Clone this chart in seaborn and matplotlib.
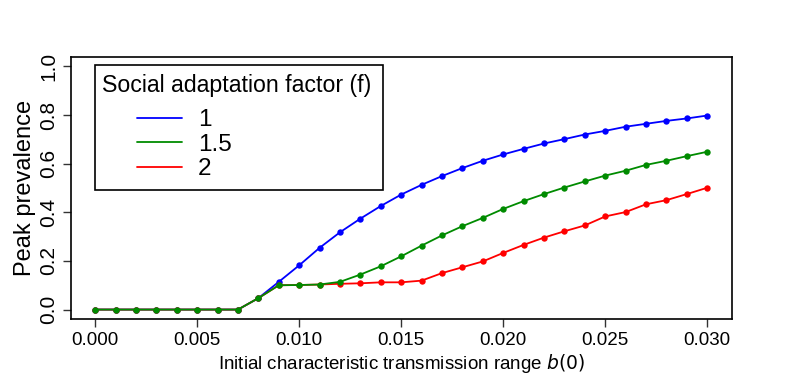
import numpy as np
import pandas as pd
import matplotlib
matplotlib.use("Agg")
import matplotlib.pyplot as plt
from matplotlib.lines import Line2D
from matplotlib.patches import Rectangle
import seaborn as sns

# values
b0 = [0.000, 0.001, 0.002, 0.003, 0.004, 0.005, 0.006, 0.007, 0.008, 0.009,
      0.010, 0.011, 0.012, 0.013, 0.014, 0.015, 0.016, 0.017, 0.018, 0.019,
      0.020, 0.021, 0.022, 0.023, 0.024, 0.025, 0.026, 0.027, 0.028, 0.029, 0.030]
peak_f1 = [0, 0, 0, 0, 0, 0, 0, 0, 0.047, 0.114, 0.182, 0.254, 0.318, 0.374,
           0.426, 0.473, 0.513, 0.549, 0.582, 0.612, 0.638, 0.661, 0.683, 0.701,
           0.720, 0.735, 0.752, 0.764, 0.776, 0.786, 0.798]
peak_f15 = [0, 0, 0, 0, 0, 0, 0, 0, 0.047, 0.100, 0.101, 0.103, 0.114, 0.144,
            0.178, 0.219, 0.263, 0.305, 0.343, 0.377, 0.414, 0.446, 0.475, 0.502,
            0.527, 0.551, 0.571, 0.595, 0.612, 0.631, 0.649]
peak_f2 = [0, 0, 0, 0, 0, 0, 0, 0, 0.047, 0.100, 0.101, 0.103, 0.106, 0.108,
           0.112, 0.112, 0.119, 0.150, 0.174, 0.198, 0.233, 0.266, 0.296, 0.322,
           0.346, 0.383, 0.401, 0.433, 0.450, 0.475, 0.501]
factors = ["1", "1.5", "2"]
colors = {"1": "#0000FF", "1.5": "#008B00", "2": "#FF0000"}

x_ticks = [0.000, 0.005, 0.010, 0.015, 0.020, 0.025, 0.030]
y_ticks = [0.0, 0.2, 0.4, 0.6, 0.8, 1.0]

df = pd.DataFrame({
    "b0": b0 * 3,
    "peak": peak_f1 + peak_f15 + peak_f2,
    "f": ["1"] * len(b0) + ["1.5"] * len(b0) + ["2"] * len(b0),
})

sns.set_style("ticks")
plt.rcParams["font.family"] = ["Liberation Sans", "DejaVu Sans"]
plt.rcParams.update({"text.color": "black", "axes.labelcolor": "black",
                     "xtick.labelcolor": "black", "ytick.labelcolor": "black"})

fig = plt.figure(figsize=(7.89, 3.91), dpi=100)
ax = fig.add_axes([0.0896, 0.1834, 0.8378, 0.6716])

# green on top, as in the reference
for f in ["1", "2", "1.5"]:
    sns.lineplot(data=df[df["f"] == f], x="b0", y="peak", color=colors[f],
                 marker="o", markersize=4.6, markeredgewidth=0, linewidth=1.3,
                 ax=ax, legend=False)

ax.set_xlim(-0.0012, 0.0312)
ax.set_ylim(-0.04, 1.04)
ax.set_xticks(x_ticks)
ax.set_xticklabels([f"{t:.3f}" for t in x_ticks], fontsize=13.5)
ax.set_yticks(y_ticks)
ax.set_yticklabels([f"{t:.1f}" for t in y_ticks], fontsize=15,
                   rotation=90, va="center")
ax.tick_params(direction="out", length=6, width=1, color="#333333", pad=3)
for s in ax.spines.values():
    s.set_visible(True)
    s.set_color("black")
    s.set_linewidth(1.2)

ax.set_xlabel("Initial characteristic transmission range $b(0)$",
              fontsize=13.5, labelpad=2)
ax.set_ylabel("Peak prevalence", fontsize=17, labelpad=2)

# legend box, R style: title at top, indented entries
ax.add_patch(Rectangle((0.0366, 0.492), 0.4353, 0.476, transform=ax.transAxes,
                       fill=False, edgecolor="black", linewidth=1.2, zorder=5))
ax.text(0.0469, 0.89, "Social adaptation factor (f)", transform=ax.transAxes,
        fontsize=16.7, va="center", ha="left")
handles = [Line2D([], [], color=colors[f], linewidth=1.3) for f in factors]
ax.legend(handles, factors, loc="upper left", bbox_to_anchor=(0.1003, 0.80),
          frameon=False, fontsize=17.5, handlelength=1.85, handletextpad=0.66,
          labelspacing=0.1, borderpad=0, borderaxespad=0)

fig.savefig("out.png", dpi=100)
